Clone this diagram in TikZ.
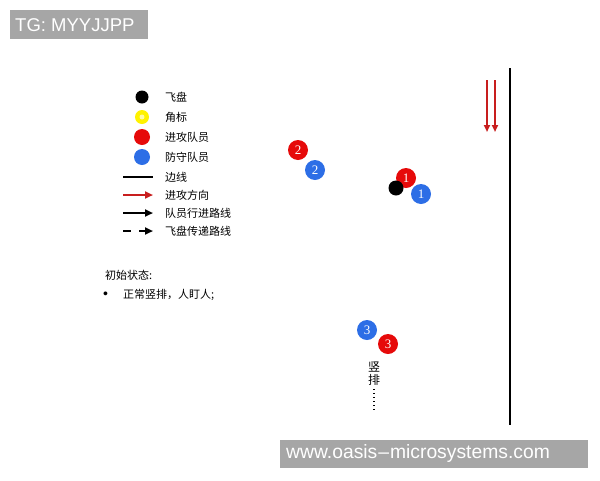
\documentclass[tikz,border=0pt]{standalone}
\usepackage{fontspec}
\setmainfont{Liberation Sans}
\newfontfamily\cjk{Noto Sans CJK SC}
\newfontfamily\numfont{Liberation Serif}
\usetikzlibrary{arrows.meta}
\definecolor{tagGray}{RGB}{166,166,166}
\definecolor{attRed}{RGB}{230,10,10}
\definecolor{defBlue}{RGB}{45,110,230}
\definecolor{dirRed}{RGB}{200,30,30}
\begin{document}
\begin{tikzpicture}[x=1pt, y=-1pt,
        tag/.style={text=white, inner sep=0pt, anchor=west},
        legtext/.style={anchor=west, font=\cjk\fontsize{11}{13}\selectfont, inner sep=0pt},
        attacker/.style={circle, fill=attRed, text=white, minimum size=20pt, inner sep=0pt, font=\numfont\fontsize{13}{13}\selectfont},
        defender/.style={circle, fill=defBlue, text=white, minimum size=20pt, inner sep=0pt, font=\numfont\fontsize{13}{13}\selectfont},
        disc/.style={circle, fill=black, minimum size=15pt, inner sep=0pt},
        arrow/.style={-{Triangle[length=8pt, width=7pt]}, line width=2pt}
    ]
        \useasboundingbox (0,0) rectangle (600,480);

        % watermarks
        \fill[tagGray] (10,10) rectangle (148,39);
        \node[tag] (tg) at (15,25) {\fontsize{18.5}{18.5}\selectfont TG: MYYJJPP};
        \fill[tagGray] (280,440) rectangle (588,468);
        \node[tag] (www) at (286,454) {\fontsize{19.3}{19.3}\selectfont www.oasis\kern1pt--\kern1pt microsystems.com};

        % legend
        \node[disc, minimum size=13pt] (kDisc) at (142,97) {};
        \node[circle, fill=yellow, minimum size=14pt, inner sep=0pt] (kCone) at (142,117) {};
        \fill[yellow!35] (kCone) circle (2.5pt);
        \node[circle, fill=attRed, minimum size=16pt, inner sep=0pt] (kAtt) at (142,137) {};
        \node[circle, fill=defBlue, minimum size=16pt, inner sep=0pt] (kDef) at (142,157) {};
        \coordinate (sA) at (123,177); \coordinate (sB) at (153,177);
        \coordinate (dA) at (123,195); \coordinate (dB) at (153,195);
        \coordinate (rA) at (123,213); \coordinate (rB) at (153,213);
        \coordinate (pA) at (123,231); \coordinate (pB) at (153,231);
        \draw[line width=2pt] (sA) -- (sB);
        \draw[arrow, dirRed] (dA) -- (dB);
        \draw[arrow] (rA) -- (rB);
        \draw[arrow, dash pattern=on 8pt off 8pt] (pA) -- (pB);

        \node[legtext] (tDisc) at (165,97) {飞盘};
        \node[legtext] (tCone) at (165,117) {角标};
        \node[legtext] (tAtt) at (165,137) {进攻队员};
        \node[legtext] (tDef) at (165,157) {防守队员};
        \node[legtext] (tSide) at (165,177) {边线};
        \node[legtext] (tDir) at (165,195) {进攻方向};
        \node[legtext] (tRun) at (165,213) {队员行进路线};
        \node[legtext] (tPass) at (165,231) {飞盘传递路线};

        % initial state
        \node[legtext] (init) at (105,275) {初始状态:};
        \node[legtext, font=\fontsize{14}{14}\selectfont] (bullet) at (103,295) {\textbullet};
        \node[legtext] (stack) at (123,295) {正常竖排，人盯人;};

        % field
        \coordinate (lineTop) at (510,68);
        \coordinate (lineBot) at (510,425);
        \draw[line width=2pt] (lineTop) -- (lineBot);
        \coordinate (aTop) at (487,80); \coordinate (aBot) at (487,132);
        \coordinate (bTop) at (495,80); \coordinate (bBot) at (495,132);
        \draw[arrow, dirRed, line width=1.8pt, -{Triangle[length=7pt, width=6pt]}] (aTop) -- (aBot);
        \draw[arrow, dirRed, line width=1.8pt, -{Triangle[length=7pt, width=6pt]}] (bTop) -- (bBot);

        \node[attacker] (o2) at (298,150) {2};
        \node[defender] (d2) at (315,170) {2};
        \node[attacker] (o1) at (406,178) {1};
        \node[disc] (frisbee) at (396,188) {};
        \node[defender] (d1) at (421,194) {1};
        \node[defender] (d3) at (367,330) {3};
        \node[attacker] (o3) at (388,344) {3};

        \node[font=\cjk\fontsize{12}{13}\selectfont, align=center, inner sep=0pt] (vert) at (374,374) {竖\\排};
        \coordinate (dotEnd) at (374,410);
        \draw[line width=1.2pt, dash pattern=on 1.2pt off 2.8pt] (vert.south) ++(0,3) -- (dotEnd);
    \end{tikzpicture}
\end{document}
